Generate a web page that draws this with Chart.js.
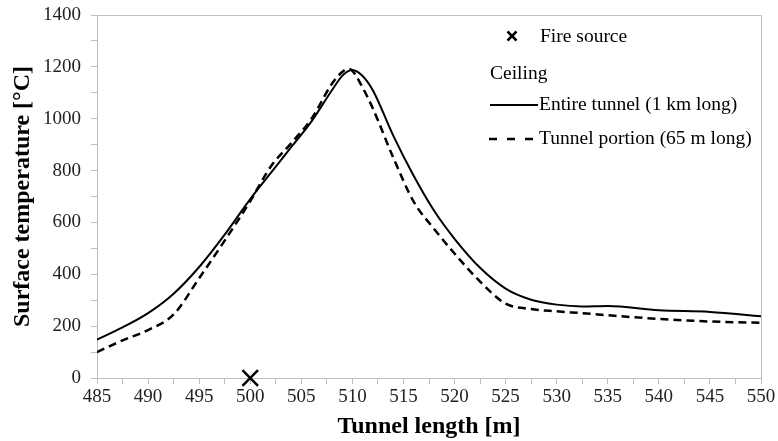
<!DOCTYPE html>
<html>
<head>
<meta charset="utf-8">
<script src="https://cdn.jsdelivr.net/npm/chart.js@4.4.0/dist/chart.umd.min.js"></script>
<style>
  html, body { margin: 0; padding: 0; background: #fff; }
  #wrap { width: 778px; height: 441px; }
</style>
</head>
<body>
<div id="wrap"><canvas id="chart"></canvas></div>
<script>
// positions along the tunnel [m]
const distances = [485, 487.5, 490, 492.5, 495, 497.5, 500, 502, 504, 506, 508, 509, 509.5, 510, 511, 512, 514, 516, 518, 520, 522.5, 525, 527.5, 530, 532.5, 535, 540, 545, 550]
// ceiling surface temperature [°C]
const entireTunnel = [148, 195, 250, 325, 428, 553, 690, 790, 890, 990, 1110, 1165, 1182, 1188, 1165, 1110, 935, 780, 645, 537, 425, 345, 302, 283, 276, 278, 261, 255, 238]
const tunnelPortion = [100, 145, 185, 245, 385, 530, 682, 815, 905, 1000, 1135, 1180, 1192, 1185, 1120, 1040, 850, 680, 575, 480, 372, 287, 266, 257, 250, 242, 228, 218, 213]
const firePosition = [500]
const fireValue = [0]

const yTicks = [0, 200, 400, 600, 800, 1000, 1200, 1400]
const xTicks = [485, 490, 495, 500, 505, 510, 515, 520, 525, 530, 535, 540, 545, 550]

const serif = '"Liberation Serif", "Times New Roman", serif'
const axisGray = '#bfbfbf'

function toPoints(xs, ys) {
    return xs.map((x, i) => ({ x: x, y: ys[i] }))
}

// frame around the plot area
const frame = {
    id: 'frame',
    beforeDatasetsDraw(chart) {
        const a = chart.chartArea
        const ctx = chart.ctx
        ctx.save()
        ctx.strokeStyle = axisGray
        ctx.lineWidth = 1
        ctx.strokeRect(Math.round(a.left) + 0.5, Math.round(a.top) + 0.5,
            Math.round(a.right - a.left), Math.round(a.bottom - a.top))
        ctx.restore()
    }
}

// legend drawn inside the plot, top right
const insideLegend = {
    id: 'insideLegend',
    afterDraw(chart) {
        const ctx = chart.ctx
        const sets = chart.data.datasets
        ctx.save()
        ctx.font = '19.5px ' + serif
        ctx.fillStyle = '#000'
        ctx.textBaseline = 'middle'
        ctx.textAlign = 'left'

        // fire source marker
        ctx.strokeStyle = '#000'
        ctx.lineWidth = 2.5
        ctx.beginPath()
        ctx.moveTo(507.5, 31.5); ctx.lineTo(516.5, 40.5)
        ctx.moveTo(516.5, 31.5); ctx.lineTo(507.5, 40.5)
        ctx.stroke()
        ctx.fillText(sets[2].label, 540, 37)

        ctx.fillText('Ceiling', 490, 74)

        ctx.lineWidth = 2
        ctx.setLineDash([])
        ctx.beginPath()
        ctx.moveTo(490, 105); ctx.lineTo(538, 105)
        ctx.stroke()
        ctx.fillText(sets[0].label, 539, 105)

        ctx.lineWidth = 2.5
        ctx.setLineDash([8, 10])
        ctx.beginPath()
        ctx.moveTo(489, 139); ctx.lineTo(538, 139)
        ctx.stroke()
        ctx.setLineDash([])
        ctx.fillText(sets[1].label, 539, 139)
        ctx.restore()
    }
}

new Chart(document.getElementById('chart'), {
    type: 'line',
    data: {
        datasets: [{
            label: 'Entire tunnel (1 km long)',
            data: toPoints(distances, entireTunnel),
            borderColor: '#000',
            borderWidth: 2,
            pointRadius: 0,
            cubicInterpolationMode: 'monotone'
        }, {
            label: 'Tunnel portion (65 m long)',
            data: toPoints(distances, tunnelPortion),
            borderColor: '#000',
            borderWidth: 2.5,
            borderDash: [8, 5],
            pointRadius: 0,
            cubicInterpolationMode: 'monotone'
        }, {
            label: 'Fire source',
            data: toPoints(firePosition, fireValue),
            showLine: false,
            pointStyle: 'crossRot',
            pointRadius: 11,
            pointBorderWidth: 2.5,
            pointBorderColor: '#000',
            clip: false
        }]
    },
    options: {
        responsive: true,
        maintainAspectRatio: false,
        animation: false,
        layout: { padding: { top: 15, right: 17, left: 0, bottom: 0 } },
        plugins: {
            legend: { display: false },
            tooltip: { enabled: false }
        },
        scales: {
            x: {
                type: 'linear',
                min: 485,
                max: 550,
                afterBuildTicks(scale) {
                    const t = []
                    for (let v = 485; v <= 550; v += 2.5) t.push({ value: v })
                    scale.ticks = t
                },
                afterFit(scale) {
                    scale.height = 63
                    scale.paddingLeft = 0
                    scale.paddingRight = 0
                },
                ticks: {
                    autoSkip: false,
                    maxRotation: 0,
                    padding: 2,
                    color: '#222',
                    font: { family: serif, size: 19 },
                    callback: v => xTicks.includes(v) ? String(v) : ''
                },
                grid: {
                    drawOnChartArea: false,
                    drawTicks: true,
                    tickLength: 6,
                    color: axisGray
                },
                border: { color: axisGray },
                title: {
                    display: true,
                    text: 'Tunnel length [m]',
                    color: '#000',
                    font: { family: serif, size: 24, weight: 'bold' },
                    padding: { top: 3, bottom: 0 }
                }
            },
            y: {
                min: 0,
                max: 1400,
                afterBuildTicks(scale) {
                    const t = []
                    for (let v = 0; v <= 1400; v += 100) t.push({ value: v })
                    scale.ticks = t
                },
                afterFit(scale) {
                    scale.width = 97
                    scale.paddingTop = 0
                    scale.paddingBottom = 0
                },
                ticks: {
                    autoSkip: false,
                    padding: 10,
                    color: '#222',
                    font: { family: serif, size: 19 },
                    callback: v => yTicks.includes(v) ? String(v) : ''
                },
                grid: {
                    drawOnChartArea: false,
                    drawTicks: true,
                    tickLength: 6,
                    color: axisGray
                },
                border: { color: axisGray },
                title: {
                    display: true,
                    text: 'Surface temperature [°C]',
                    color: '#000',
                    font: { family: serif, size: 24, weight: 'bold' },
                    padding: { top: 8, bottom: 0 }
                }
            }
        }
    },
    plugins: [frame, insideLegend]
})
</script>
</body>
</html>
